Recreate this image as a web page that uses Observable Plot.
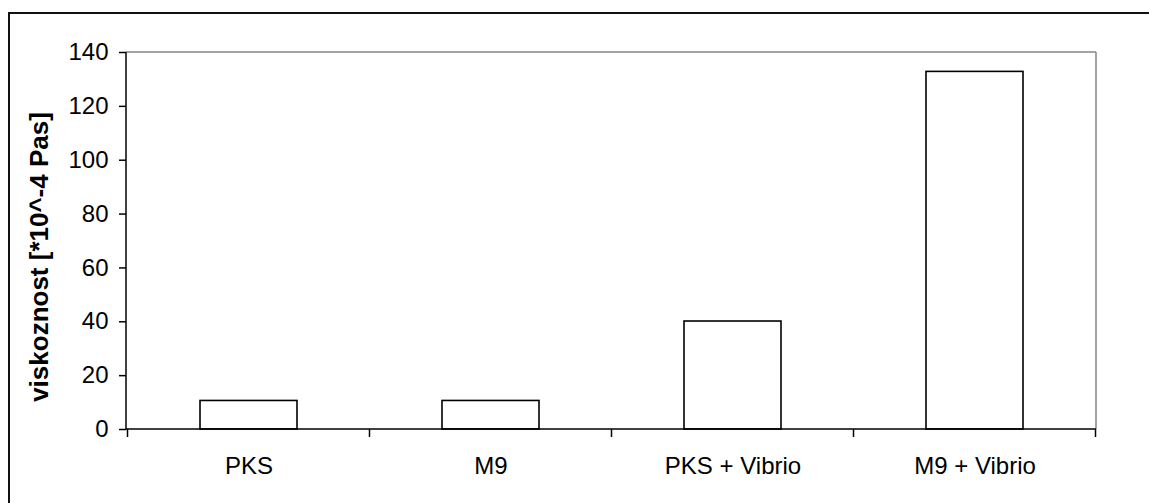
<!DOCTYPE html>
<html><head><meta charset="utf-8">
<script src="https://cdn.jsdelivr.net/npm/d3@7"></script>
<script src="https://cdn.jsdelivr.net/npm/@observablehq/plot@0.6"></script>
<style>
html,body{margin:0;padding:0;background:#fff;}
#wrap{position:relative;width:1149px;height:503px;overflow:hidden;background:#fff;}
#border{position:absolute;left:8px;top:12px;width:1300px;height:700px;border-top:2px solid #111;border-left:2px solid #111;}
#chart{position:absolute;left:0;top:0;}
</style></head><body>
<div id="wrap"><div id="border"></div><div id="chart"></div></div>
<script>
const categories = ["PKS", "M9", "PKS + Vibrio", "M9 + Vibrio"];
const values = [10.6, 10.6, 40.1, 132.8];
const yTicks = [0, 20, 40, 60, 80, 100, 120, 140];
const yLabel = "viskoznost [*10^-4 Pas]";

const data = categories.map((c, i) => ({category: c, value: values[i]}));

function frameAndTicks(index, scales, vals, dims) {
  const x = scales.x, y = scales.y;
  const L = dims.marginLeft, R = dims.width - dims.marginRight;
  const T = y(d3.max(yTicks)), B = y(0);
  const step = x.step(), off = (step - x.bandwidth()) / 2;
  const bounds = categories.map(c => x(c) - off);
  bounds.push(x(categories[categories.length - 1]) - off + step);
  const g = d3.create("svg:g");
  g.append("line").attr("x1", L).attr("x2", R).attr("y1", T).attr("y2", T)
    .attr("stroke", "#858585").attr("stroke-width", 1.5);
  g.append("line").attr("x1", R).attr("x2", R).attr("y1", T).attr("y2", B)
    .attr("stroke", "#858585").attr("stroke-width", 1.5);
  g.append("line").attr("x1", L).attr("x2", L).attr("y1", T).attr("y2", B)
    .attr("stroke", "#000").attr("stroke-width", 1.5);
  g.append("line").attr("x1", L).attr("x2", R).attr("y1", B).attr("y2", B)
    .attr("stroke", "#000").attr("stroke-width", 1.5);
  for (const bx of bounds) {
    g.append("line").attr("x1", bx).attr("x2", bx).attr("y1", B).attr("y2", B + 8)
      .attr("stroke", "#000").attr("stroke-width", 1.5);
  }
  return g.node();
}

const chart = Plot.plot({
  width: 1149,
  height: 503,
  marginLeft: 126,
  marginRight: 53,
  marginTop: 52,
  marginBottom: 74,
  style: {fontFamily: "'Liberation Sans', Arial, sans-serif", fontSize: "24px", color: "#000", background: "transparent"},
  x: {domain: categories, paddingInner: 0.6, paddingOuter: 0.3, label: null},
  y: {domain: [0, 140], label: null},
  marks: [
    Plot.barY(data, {x: "category", y: "value", fill: "white", stroke: "#000", strokeWidth: 1.6}),
    frameAndTicks,
    Plot.axisY({ticks: yTicks, tickSize: 7, tickPadding: 11, stroke: "#000", strokeWidth: 1.5, label: null, fontSize: 24, tickFormat: d => String(d)}),
    Plot.axisX({tickSize: 0, tickPadding: 27, label: null, fontSize: 24}),
    Plot.text([yLabel], {text: d => d, frameAnchor: "left", textAnchor: "middle", rotate: -90, dx: -87, dy: 16, fontWeight: "bold", fontSize: 26, fill: "#000"})
  ]
});
document.getElementById("chart").appendChild(chart);
</script>
</body></html>
